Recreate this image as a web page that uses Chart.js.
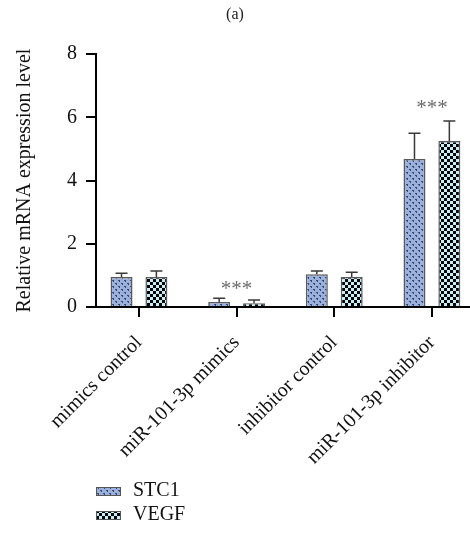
<!DOCTYPE html>
<html>
<head>
<meta charset="utf-8">
<title>Relative mRNA expression</title>
<script src="https://cdn.jsdelivr.net/npm/chart.js@4.4.1/dist/chart.umd.min.js"></script>
<style>
  body { margin: 0; background: #fff; }
  canvas { display: block; }
</style>
</head>
<body>
<canvas id="myChart" width="470" height="542"></canvas>
<script>
'use strict';

// Data
let categories = ['mimics control', 'miR-101-3p mimics', 'inhibitor control', 'miR-101-3p inhibitor'];
let seriesNames = ['STC1', 'VEGF'];
let stc1Values = [0.95, 0.16, 1.04, 4.68];
let stc1Errors = [0.12, 0.12, 0.10, 0.82];
let vegfValues = [0.95, 0.12, 0.95, 5.25];
let vegfErrors = [0.19, 0.10, 0.15, 0.64];
let yTicks = [0, 2, 4, 6, 8];
let sigLabels = ['', '***', '', '***'];
let sigLevels = [null, 0.7, null, 6.45];

let serif = '"Liberation Serif", "Times New Roman", serif';

// Fill patterns
function makeDotPattern() {
  let c = document.createElement('canvas');
  c.width = 6;
  c.height = 6;
  let g = c.getContext('2d');
  g.fillStyle = '#9bb1dd';
  g.fillRect(0, 0, 6, 6);
  g.fillStyle = '#3b4766';
  g.fillRect(1, 1, 2, 1);
  g.fillRect(2, 2, 1, 1);
  g.fillRect(4, 4, 2, 1);
  g.fillRect(5, 5, 1, 1);
  return g.createPattern(c, 'repeat');
}

function makeCheckPattern() {
  let c = document.createElement('canvas');
  c.width = 6;
  c.height = 6;
  let g = c.getContext('2d');
  g.fillStyle = '#c9eef7';
  g.fillRect(0, 0, 6, 6);
  g.fillStyle = '#050505';
  g.fillRect(0, 0, 3, 3);
  g.fillRect(3, 3, 3, 3);
  return g.createPattern(c, 'repeat');
}

let patterns = [makeDotPattern(), makeCheckPattern()];
let allErrors = [stc1Errors, vegfErrors];

function toPoints(values) {
  return values.map((v, i) => ({ x: i, y: v }));
}

// Error bars (upper only) + significance marks + legend
let extrasPlugin = {
  id: 'extras',
  afterDatasetsDraw(chart) {
    let ctx = chart.ctx;
    let yScale = chart.scales.y;
    ctx.save();
    ctx.strokeStyle = '#3a3a3a';
    ctx.lineWidth = 1.5;
    chart.data.datasets.forEach((ds, d) => {
      let meta = chart.getDatasetMeta(d);
      meta.data.forEach((bar, i) => {
        let top = yScale.getPixelForValue(ds.data[i].y);
        let end = yScale.getPixelForValue(ds.data[i].y + allErrors[d][i]);
        ctx.beginPath();
        ctx.moveTo(bar.x, top);
        ctx.lineTo(bar.x, end);
        ctx.moveTo(bar.x - 6, end);
        ctx.lineTo(bar.x + 6, end);
        ctx.stroke();
      });
    });

    let xScale = chart.scales.x;
    ctx.fillStyle = '#6b6b6b';
    ctx.font = '21px ' + serif;
    ctx.textAlign = 'center';
    ctx.textBaseline = 'middle';
    for (let i = 0; i < sigLabels.length; i++) {
      if (!sigLabels[i]) continue;
      ctx.fillText(sigLabels[i], xScale.getPixelForValue(i), yScale.getPixelForValue(sigLevels[i]) + 5);
    }
    ctx.restore();
  },
  afterDraw(chart) {
    let ctx = chart.ctx;
    ctx.save();
    ctx.font = '20px ' + serif;
    ctx.textBaseline = 'middle';
    ctx.textAlign = 'left';
    chart.data.datasets.forEach((ds, d) => {
      let cy = 491 + d * 24;
      ctx.fillStyle = ds.backgroundColor;
      ctx.fillRect(96, cy - 4, 25, 9);
      ctx.strokeStyle = '#555';
      ctx.lineWidth = 1;
      ctx.strokeRect(96.5, cy - 3.5, 24, 8);
      ctx.fillStyle = '#111';
      ctx.fillText(ds.label, 133, cy);
    });
    ctx.restore();
  }
};

let ctx = document.getElementById('myChart').getContext('2d');
let myChart = new Chart(ctx, {
  type: 'bar',
  data: {
    datasets: [
      {
        label: seriesNames[0],
        data: toPoints(stc1Values),
        backgroundColor: patterns[0],
        borderColor: '#5a5a5a',
        borderWidth: 1.5
      },
      {
        label: seriesNames[1],
        data: toPoints(vegfValues),
        backgroundColor: patterns[1],
        borderColor: '#5a5a5a',
        borderWidth: 1.5
      }
    ]
  },
  options: {
    responsive: false,
    animation: false,
    categoryPercentage: 0.714,
    barPercentage: 0.63,
    layout: { padding: { left: 0, right: 0, top: 0, bottom: 0 } },
    plugins: {
      legend: { display: false },
      tooltip: { enabled: false },
      title: {
        display: true,
        text: '(a)',
        color: '#222',
        font: { family: serif, size: 16, weight: 'normal' },
        padding: { top: 5, bottom: 30 }
      }
    },
    scales: {
      x: {
        type: 'linear',
        min: -0.44,
        max: 3.39,
        offset: false,
        grid: {
          display: true,
          offset: false,
          drawOnChartArea: false,
          drawTicks: true,
          tickLength: 10,
          color: '#000',
          lineWidth: 2
        },
        border: { display: true, color: '#000', width: 2 },
        ticks: {
          stepSize: 1,
          includeBounds: false,
          autoSkip: false,
          minRotation: 45,
          maxRotation: 45,
          padding: 14,
          color: '#111',
          font: { family: serif, size: 20 },
          callback: (v) => categories[v] || ''
        },
        afterFit: (scale) => { scale.height = 235; }
      },
      y: {
        min: 0,
        max: 8,
        grid: {
          display: true,
          drawOnChartArea: false,
          drawTicks: true,
          tickLength: 10,
          color: '#000',
          lineWidth: 2
        },
        border: { display: true, color: '#000', width: 2 },
        afterBuildTicks: (scale) => { scale.ticks = yTicks.map(v => ({ value: v })); },
        ticks: {
          padding: 9,
          color: '#111',
          font: { family: serif, size: 20 }
        },
        title: {
          display: true,
          text: 'Relative mRNA expression level',
          color: '#111',
          font: { family: serif, size: 20 },
          padding: { top: 13, bottom: 0 }
        },
        afterFit: (scale) => { scale.width = 96; }
      }
    }
  },
  plugins: [extrasPlugin]
});
</script>
</body>
</html>
